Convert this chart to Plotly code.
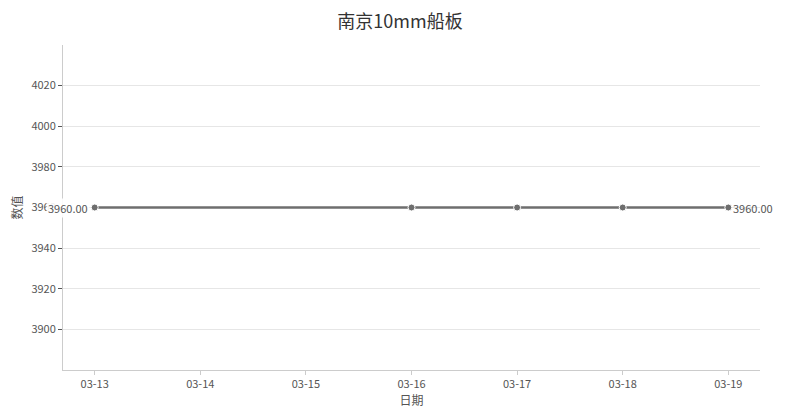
import plotly.graph_objects as go

# -- Data ---------------------------------------------------------------------

TITLE = "南京10mm船板"
DATES = ["2024-03-13", "2024-03-16", "2024-03-17", "2024-03-18", "2024-03-19"]
VALUES = [3960, 3960, 3960, 3960, 3960]
TICK_DATES = ["2024-03-13", "2024-03-14", "2024-03-15", "2024-03-16",
              "2024-03-17", "2024-03-18", "2024-03-19"]
TICK_LABELS = ["03-13", "03-14", "03-15", "03-16", "03-17", "03-18", "03-19"]
Y_TICKS = [3900, 3920, 3940, 3960, 3980, 4000, 4020]

# -- Theme --------------------------------------------------------------------

LINE_COLOR = "#6e6e6e"
AXIS_COLOR = "#cccccc"
GRID_COLOR = "#e6e6e6"
TEXT_COLOR = "#555555"
FONT_FAMILY = "Noto Sans CJK SC, sans-serif"

fig = go.Figure()
fig.add_trace(go.Scatter(
    x=DATES, y=VALUES,
    mode="lines+markers",
    line=dict(color=LINE_COLOR, width=2.5),
    marker=dict(size=7, color=LINE_COLOR, line=dict(color="white", width=1)),
    showlegend=False,
    cliponaxis=False,
))

# value labels on first and last point (white backed, covering the tick label)
fig.add_annotation(
    x=DATES[0], y=VALUES[0], xref="x", yref="y",
    text=f"{VALUES[0]:.2f}", showarrow=False,
    xanchor="right", xshift=-5, bgcolor="rgba(255,255,255,0.9)", borderpad=1,
    font=dict(size=11, color=TEXT_COLOR, family=FONT_FAMILY),
)
fig.add_annotation(
    x=DATES[-1], y=VALUES[-1], xref="x", yref="y",
    text=f"{VALUES[-1]:.2f}", showarrow=False,
    xanchor="left", xshift=4, borderpad=0,
    font=dict(size=11, color=TEXT_COLOR, family=FONT_FAMILY),
)

# page body has an 8px margin, so the figure is sized to fit the window
fig.update_layout(
    width=784, height=412,
    font=dict(family=FONT_FAMILY, color=TEXT_COLOR),
    paper_bgcolor="white",
    plot_bgcolor="white",
    title=dict(text=TITLE, x=0.5, xanchor="center", y=0.966, yanchor="middle",
               font=dict(size=18, color="#333333", family=FONT_FAMILY)),
    margin=dict(l=55, r=32, t=37, b=50),
    xaxis=dict(
        type="date", automargin=False,
        range=["2024-03-12 16:48", "2024-03-19 07:12"],
        tickvals=TICK_DATES, ticktext=TICK_LABELS,
        tickfont=dict(size=11, color=TEXT_COLOR),
        ticks="outside", ticklen=4, tickcolor=AXIS_COLOR,
        showgrid=False, showline=True, linecolor=AXIS_COLOR, linewidth=1,
        zeroline=False,
        title=dict(text="日期", font=dict(size=12, color=TEXT_COLOR), standoff=4),
    ),
    yaxis=dict(
        automargin=False,
        range=[3880, 4040],
        tickvals=Y_TICKS,
        tickfont=dict(size=11, color=TEXT_COLOR),
        ticks="outside", ticklen=4, tickcolor=TEXT_COLOR,
        showgrid=True, gridcolor=GRID_COLOR, gridwidth=1,
        showline=True, linecolor=AXIS_COLOR, linewidth=1,
        zeroline=False,
        title=dict(text="数值", font=dict(size=12, color=TEXT_COLOR), standoff=6),
    ),
)

fig.write_html("out.html")
